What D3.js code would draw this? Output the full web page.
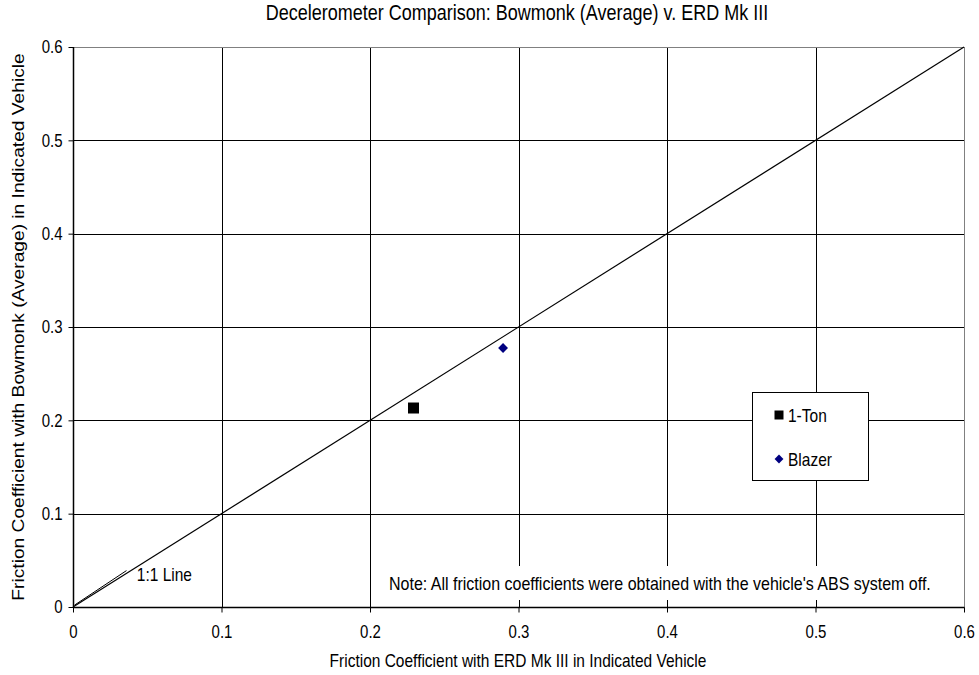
<!DOCTYPE html>
<html>
<head>
<meta charset="utf-8">
<script src="https://cdn.jsdelivr.net/npm/d3@7"></script>
<style>
  body { margin: 0; background: #fff; }
  svg text { font-family: "Liberation Sans", Arial, sans-serif; fill: #000; }
</style>
</head>
<body>
<svg id="chart" width="979" height="675"></svg>
<script>
// data
const seriesNames = ['1-Ton', 'Blazer'];
const seriesX = [0.2293, 0.2896];
const seriesY = [0.2132, 0.2775];
const tickValues = [0, 0.1, 0.2, 0.3, 0.4, 0.5, 0.6];
const oneToOne = [0, 0.6];

const svg = d3.select('#chart');
const margin = { left: 73, top: 47, right: 15, bottom: 68 };
const W = 979, H = 675;
const K = 1.2; // text in the picture is a bit taller than wide

const x = d3.scaleLinear().domain([0, 0.6]).range([margin.left, W - margin.right]);
const y = d3.scaleLinear().domain([0, 0.6]).range([H - margin.bottom, margin.top]);

// horizontal text, stretched vertically
function hText(parent, tx, ty, size, str, anchor) {
  return parent.append('text')
    .attr('transform', `translate(${tx},${ty}) scale(1,${K})`)
    .attr('font-size', size)
    .attr('text-anchor', anchor || 'start')
    .text(str);
}

// gridlines
svg.append('g').selectAll('line')
  .data(tickValues.slice(1, -1))
  .join('line')
    .attr('x1', d => Math.round(x(d)) + 0.5).attr('x2', d => Math.round(x(d)) + 0.5)
    .attr('y1', y(0.6)).attr('y2', y(0))
    .attr('stroke', '#000');
svg.append('g').selectAll('line')
  .data(tickValues.slice(1, -1))
  .join('line')
    .attr('y1', d => Math.round(y(d)) + 0.5).attr('y2', d => Math.round(y(d)) + 0.5)
    .attr('x1', x(0)).attr('x2', x(0.6))
    .attr('stroke', '#000');

// plot border
svg.append('rect')
  .attr('x', x(0) + 0.5).attr('y', y(0.6) + 0.5)
  .attr('width', x(0.6) - x(0)).attr('height', y(0) - y(0.6))
  .attr('fill', 'none').attr('stroke', '#808080');

// note, white box over the grid
svg.append('rect')
  .attr('x', 384).attr('y', 566).attr('width', 566).attr('height', 34)
  .attr('fill', '#fff');
hText(svg, 389, 590, 16, "Note: All friction coefficients were obtained with the vehicle's ABS system off.");

// axes
const fmt = d => d === 0 ? '0' : d3.format('.1f')(d);
const gx = svg.append('g').attr('transform', `translate(0,${y(0) + 0.5})`)
  .call(d3.axisBottom(x).tickValues(tickValues).tickSize(5).tickFormat(fmt));
gx.select('.domain').attr('stroke', '#000').attr('stroke-width', 1.5).attr('d', `M${x(0)},0H${x(0.6) + 0.5}`);
gx.selectAll('.tick line').attr('stroke', '#000');
gx.selectAll('.tick text')
  .attr('font-size', 15).attr('font-family', '"Liberation Sans", Arial, sans-serif')
  .attr('dy', 0).attr('y', 31 / K).attr('transform', `scale(1,${K})`);

const gy = svg.append('g').attr('transform', `translate(${x(0) + 0.5},0)`)
  .call(d3.axisLeft(y).tickValues(tickValues).tickSize(5).tickFormat(fmt));
gy.select('.domain').attr('stroke', '#000').attr('stroke-width', 1.5).attr('d', `M0,${y(0.6)}V${y(0) + 0.5}`);
gy.selectAll('.tick line').attr('stroke', '#000');
gy.selectAll('.tick text')
  .attr('font-size', 15).attr('font-family', '"Liberation Sans", Arial, sans-serif')
  .attr('x', -11).attr('transform', `scale(1,${K})`);

// 1:1 line
svg.append('line')
  .attr('x1', x(oneToOne[0])).attr('y1', y(oneToOne[0]))
  .attr('x2', x(oneToOne[1])).attr('y2', y(oneToOne[1]))
  .attr('stroke', '#000').attr('stroke-width', 1.2);

// label with leader line
svg.append('line')
  .attr('x1', x(0.001)).attr('y1', y(0.002))
  .attr('x2', x(0.036)).attr('y2', y(0.039))
  .attr('stroke', '#000');
hText(svg, x(0.043), y(0.034) + 6, 15.5, '1:1 Line');

// points
const colors = ['#000000', '#000080'];
const syms = [d3.symbol().type(d3.symbolSquare).size(121), d3.symbol().type(d3.symbolDiamond2).size(62)];
seriesNames.forEach((name, i) => {
  svg.append('path')
    .attr('d', syms[i]())
    .attr('transform', `translate(${x(seriesX[i])},${y(seriesY[i])})`)
    .attr('fill', colors[i]);
});

// legend
const lg = svg.append('g');
lg.append('rect')
  .attr('x', 752.5).attr('y', 392.5).attr('width', 116).attr('height', 88)
  .attr('fill', '#fff').attr('stroke', '#000');
const legSym = [d3.symbol().type(d3.symbolSquare).size(81), d3.symbol().type(d3.symbolDiamond2).size(50)];
seriesNames.forEach((name, i) => {
  const cy = 415 + i * 44;
  lg.append('path')
    .attr('d', legSym[i]())
    .attr('transform', `translate(779,${cy})`)
    .attr('fill', colors[i]);
  hText(lg, 788, cy + 6.5, 15.5, name);
});

// titles
hText(svg, 517, 20, 18, 'Decelerometer Comparison: Bowmonk (Average) v. ERD Mk III', 'middle');
hText(svg, 518, 667, 15.5, 'Friction Coefficient with ERD Mk III in Indicated Vehicle', 'middle');
svg.append('text')
  .attr('transform', `translate(24,${(y(0) + y(0.6)) / 2}) rotate(-90) scale(${K},1)`)
  .attr('text-anchor', 'middle').attr('font-size', 16)
  .text('Friction Coefficient with Bowmonk (Average) in Indicated Vehicle');
</script>
</body>
</html>
